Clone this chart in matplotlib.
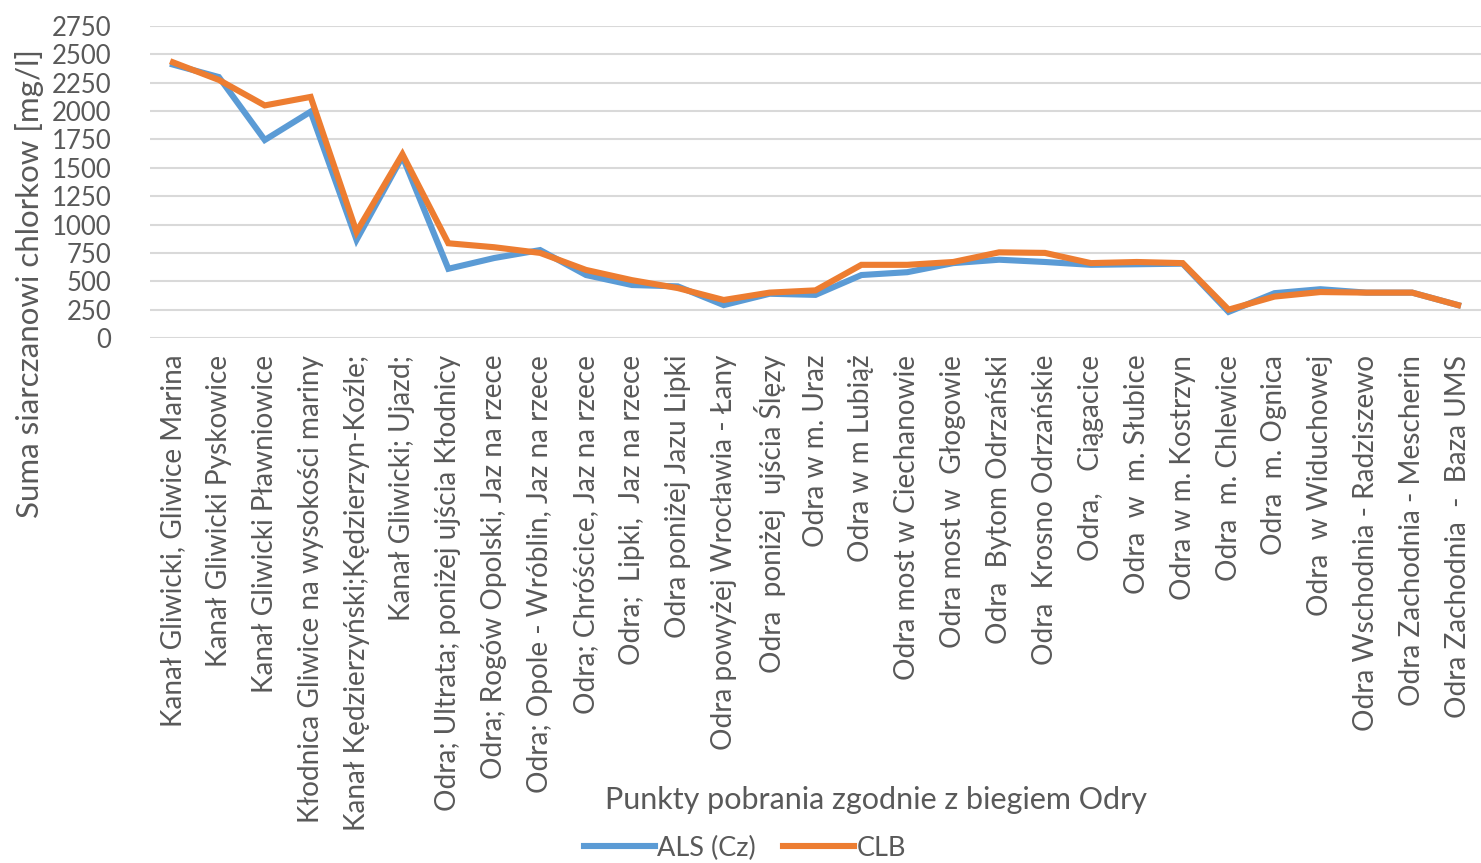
import numpy as np
import matplotlib
matplotlib.use('Agg')
import matplotlib.pyplot as plt

###############################################################################
# data:

sites = ['Kanał Gliwicki, Gliwice Marina',
         'Kanał Gliwicki Pyskowice',
         'Kanał Gliwicki Pławniowice',
         'Kłodnica Gliwice na wysokości mariny',
         'Kanał Kędzierzyński;Kędzierzyn-Koźle;',
         'Kanał Gliwicki; Ujazd;',
         'Odra; Ultrata; poniżej ujścia Kłodnicy',
         'Odra; Rogów Opolski, Jaz na rzece',
         'Odra; Opole - Wróblin, Jaz na rzece',
         'Odra; Chróścice, Jaz na rzece',
         'Odra;  Lipki,  Jaz na rzece',
         'Odra poniżej Jazu Lipki',
         'Odra powyżej Wrocławia - Łany',
         'Odra  poniżej  ujścia Ślęzy',
         'Odra w m. Uraz',
         'Odra w m Lubiąż',
         'Odra most w Ciechanowie',
         'Odra most w  Głogowie',
         'Odra  Bytom Odrzański',
         'Odra  Krosno Odrzańskie',
         'Odra,   Ciągacice',
         'Odra  w  m. Słubice',
         'Odra w m. Kostrzyn',
         'Odra  m. Chlewice',
         'Odra  m. Ognica',
         'Odra  w Widuchowej',
         'Odra Wschodnia - Radziszewo',
         'Odra Zachodnia - Mescherin',
         'Odra Zachodnia  -  Baza UMS']

als = [2410, 2300, 1745, 1995, 865, 1600, 610, 705, 775, 555, 467, 455, 290, 390,
       380, 555, 580, 660, 690, 670, 645, 650, 655, 230, 395, 430, 400, 400, 290]
clb = [2430, 2275, 2050, 2125, 935, 1620, 835, 800, 750, 600, 510, 440, 335, 400,
       420, 645, 645, 670, 755, 750, 660, 670, 660, 250, 365, 405, 400, 400, 290]

series_names = ['ALS (Cz)', 'CLB']
y_ticks = np.arange(0, 2751, 250)

###############################################################################
# plot:

plt.rcParams['font.family'] = ['Lato', 'DejaVu Sans']
text_color = '#595959'

fig = plt.figure(figsize=(14.81, 8.63), dpi=100)
ax = fig.add_axes([150/1481., 1-338/863., 1331/1481., 312/863.])

x = np.arange(len(sites))
l1, = ax.plot(x, als, lw=4.4, color='#5B9BD5', solid_joinstyle='miter', zorder=3)
l2, = ax.plot(x, clb, lw=4.4, color='#ED7D31', solid_joinstyle='miter', zorder=4)

ax.set_xlim(-0.5, len(sites)-0.5)
ax.set_ylim(0, 2750)
ax.set_yticks(y_ticks)
ax.set_yticklabels([str(t) for t in y_ticks], fontsize=18.5, color=text_color)
ax.yaxis.grid(True, color='#D9D9D9', lw=1.5)
ax.set_axisbelow(True)
ax.tick_params(axis='both', length=0)
ax.tick_params(axis='y', pad=28)
for s in ax.spines.values():
    s.set_visible(False)

ax.set_xticks(x)
ax.set_xticklabels(sites, rotation=90, fontsize=20.2, color=text_color,
                   ha='center', va='top')
ax.tick_params(axis='x', pad=12)

# axes labels:
fig.text(30/1481., 1-283/863., 'Suma siarczanowi chlorkow [mg/l]', rotation=90,
         ha='center', va='center', fontsize=22.5, color=text_color)
fig.text(876/1481., 1-800/863., 'Punkty pobrania zgodnie z biegiem Odry',
         ha='center', va='center', fontsize=22, color=text_color)

# legend:
leg = fig.legend([l1, l2], series_names, loc='center', ncol=2,
                 bbox_to_anchor=(745/1481., 1-848/863.), frameon=False,
                 fontsize=19.5, handlelength=2.6, handletextpad=0.1,
                 columnspacing=1.0, labelcolor=text_color)

plt.savefig('out.png', dpi=100)
plt.close('all')
